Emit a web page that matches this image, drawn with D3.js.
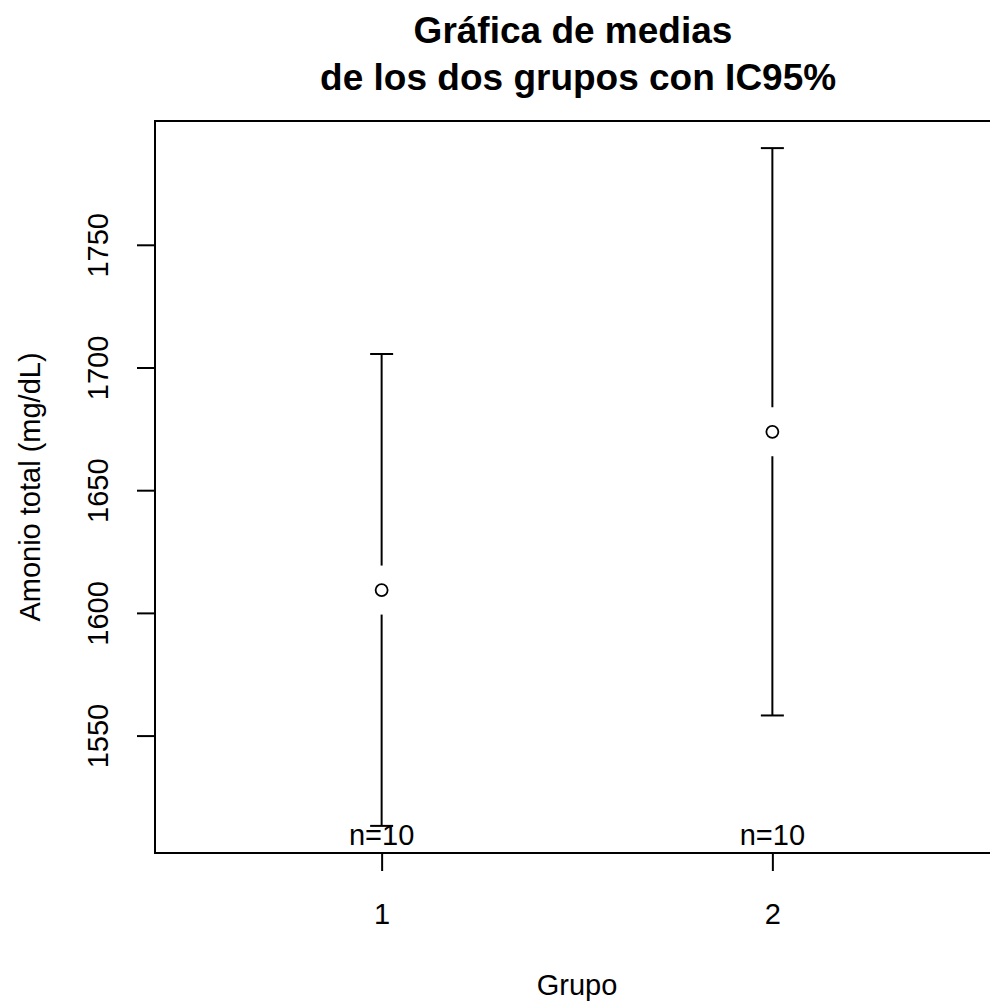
<!DOCTYPE html>
<html>
<head>
<meta charset="utf-8">
<script src="https://d3js.org/d3.v7.min.js"></script>
<style>
  html, body { margin: 0; padding: 0; background: #fff; }
  svg { display: block; font-family: "Liberation Sans", Arial, sans-serif; }
</style>
</head>
<body>
<div id="chart"></div>
<script>
// group means with 95% CI
var groups  = [1, 2];
var means   = [1609.3, 1673.8];
var lower   = [1513.2, 1558.2];
var upper   = [1705.5, 1789.4];
var counts  = [10, 10];
var yTicks  = [1550, 1600, 1650, 1700, 1750];

var width   = 990;
var height  = 1006;
var margin  = { left: 155, top: 121, right: -9, bottom: 153 };

var svg = d3.select("#chart").append("svg")
  .attr("width", width)
  .attr("height", height);

// R style 4% range extension
var yMin = d3.min(lower), yMax = d3.max(upper), yPad = (yMax - yMin)*0.04;
var xMin = 0.5, xMax = groups.length + 0.5, xPad = (xMax - xMin)*0.04;

var x = d3.scaleLinear()
  .domain([xMin - xPad, xMax + xPad])
  .range([margin.left, width - margin.right]);

var y = d3.scaleLinear()
  .domain([yMin - yPad, yMax + yPad])
  .range([height - margin.bottom, margin.top]);

var data = groups.map(function (g, i)
{
  return { g: g, mean: means[i], lo: lower[i], hi: upper[i], n: counts[i] };
});

// axes
var yAxis = d3.axisLeft(y).tickValues(yTicks).tickSize(18).tickFormat(d3.format("d"));
var xAxis = d3.axisBottom(x).tickValues(groups).tickSize(18).tickFormat(d3.format("d"));

var gy = svg.append("g").attr("transform", "translate(" + margin.left + ",0)").call(yAxis);
gy.select(".domain").remove();
gy.selectAll(".tick line").attr("stroke", "#000").attr("stroke-width", 2);
gy.selectAll(".tick text")
  .attr("x", 0).attr("y", 0).attr("dy", null)
  .attr("transform", function () { return "translate(-47,0) rotate(-90)"; })
  .attr("text-anchor", "middle")
  .attr("font-size", 29).attr("fill", "#000");

var gx = svg.append("g").attr("transform", "translate(0," + (height - margin.bottom) + ")").call(xAxis);
gx.select(".domain").remove();
gx.selectAll(".tick line").attr("stroke", "#000").attr("stroke-width", 2);
gx.selectAll(".tick text")
  .attr("y", 71).attr("dy", null)
  .attr("font-size", 29).attr("fill", "#000");

// plot box
svg.append("rect")
  .attr("x", x.range()[0])
  .attr("y", margin.top)
  .attr("width", x.range()[1] - x.range()[0])
  .attr("height", y.range()[0] - margin.top)
  .attr("fill", "none")
  .attr("stroke", "#000")
  .attr("stroke-width", 2);

// error bars, with a gap round the point
var gap = 24.5, cap = 11.5;
var bars = svg.append("g").attr("stroke", "#000").attr("stroke-width", 2);

bars.selectAll(".up").data(data).enter().append("line")
  .attr("x1", function (d) { return x(d.g); })
  .attr("x2", function (d) { return x(d.g); })
  .attr("y1", function (d) { return y(d.mean) - gap; })
  .attr("y2", function (d) { return y(d.hi); });

bars.selectAll(".down").data(data).enter().append("line")
  .attr("x1", function (d) { return x(d.g); })
  .attr("x2", function (d) { return x(d.g); })
  .attr("y1", function (d) { return y(d.mean) + gap; })
  .attr("y2", function (d) { return y(d.lo); });

bars.selectAll(".capHi").data(data).enter().append("line")
  .attr("x1", function (d) { return x(d.g) - cap; })
  .attr("x2", function (d) { return x(d.g) + cap; })
  .attr("y1", function (d) { return y(d.hi); })
  .attr("y2", function (d) { return y(d.hi); });

bars.selectAll(".capLo").data(data).enter().append("line")
  .attr("x1", function (d) { return x(d.g) - cap; })
  .attr("x2", function (d) { return x(d.g) + cap; })
  .attr("y1", function (d) { return y(d.lo); })
  .attr("y2", function (d) { return y(d.lo); });

svg.selectAll(".pt").data(data).enter().append("circle")
  .attr("cx", function (d) { return x(d.g); })
  .attr("cy", function (d) { return y(d.mean); })
  .attr("r", 6)
  .attr("fill", "none")
  .attr("stroke", "#000")
  .attr("stroke-width", 1.8);

// sample sizes
svg.selectAll(".n").data(data).enter().append("text")
  .attr("x", function (d) { return x(d.g); })
  .attr("y", y.range()[0] - 8)
  .attr("text-anchor", "middle")
  .attr("font-size", 29)
  .attr("fill", "#000")
  .text(function (d) { return "n=" + d.n; });

// titles
var cx = (x.range()[0] + x.range()[1])/2 - 4;

svg.append("text")
  .attr("x", cx).attr("y", 43)
  .attr("text-anchor", "middle")
  .attr("font-size", 37).attr("font-weight", "bold")
  .text("Gráfica de medias");

svg.append("text")
  .attr("x", cx).attr("y", 90)
  .attr("text-anchor", "middle")
  .attr("font-size", 37).attr("font-weight", "bold")
  .style("white-space", "pre")
  .text(" de los dos grupos con IC95%");

svg.append("text")
  .attr("x", cx + 4).attr("y", 995)
  .attr("text-anchor", "middle")
  .attr("font-size", 29)
  .text("Grupo");

svg.append("text")
  .attr("transform", "translate(40," + ((y.range()[0] + y.range()[1])/2) + ") rotate(-90)")
  .attr("text-anchor", "middle")
  .attr("font-size", 29)
  .text("Amonio total (mg/dL)");
</script>
</body>
</html>
